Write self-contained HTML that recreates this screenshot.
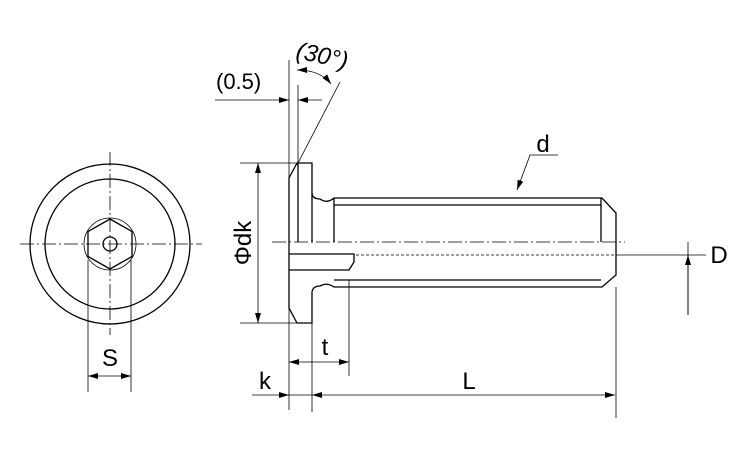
<!DOCTYPE html>
<html><head><meta charset="utf-8"><style>body{margin:0;background:#fff}svg{display:block}text{font-family:"Liberation Sans",sans-serif;fill:#000}</style></head><body>
<svg width="750" height="450" viewBox="0 0 750 450" xmlns="http://www.w3.org/2000/svg">
<defs><marker id="a" viewBox="0 0 10 6" refX="10" refY="3" markerWidth="10" markerHeight="6" orient="auto-start-reverse" markerUnits="userSpaceOnUse"><path d="M0,0L10,3L0,6z" fill="#000"/></marker></defs>
<g fill="none" stroke="#000" stroke-width="1.3">
<circle cx="110" cy="244" r="80"/><circle cx="110" cy="244" r="65"/>
<circle cx="110" cy="244" r="26" stroke-width="0.8"/>
<polygon points="110,219 132,231.5 132,256.5 110,269 88,256.5 88,231.5"/>
<circle cx="110" cy="244" r="7"/>
</g>
<g stroke="#000" stroke-width="0.8" fill="none">
<line x1="20" y1="244" x2="202" y2="244" stroke-dasharray="14,3,2,3"/>
<line x1="110" y1="152" x2="110" y2="335" stroke-dasharray="14,3,2,3"/>
<line x1="88" y1="260" x2="88" y2="392"/><line x1="131" y1="260" x2="131" y2="392"/>
<line x1="88" y1="376" x2="131" y2="376" marker-start="url(#a)" marker-end="url(#a)"/>
</g>
<text x="110" y="366" font-size="24" text-anchor="middle">S</text>
<g fill="none" stroke="#000" stroke-width="1.3">
<path d="M297,163 L312,163 L312,194 Q313,199 320,199 Q327,204 334,198 L602,198 L616,213 L616,275 L602,287 L334,287 Q327,282 320,286 Q313,286 312,292 L312,323 L297,323 L289,308 L289,178 Z"/>
<line x1="334" y1="205" x2="601" y2="205"/><line x1="334" y1="280" x2="601" y2="280"/>
<line x1="601" y1="198" x2="601" y2="242"/>
<line x1="334" y1="198" x2="334" y2="242"/>
<path d="M289,254 L354,254 L354,262 L349,270 L289,270"/>
<line x1="298" y1="163" x2="298" y2="242"/>
<line x1="312" y1="193" x2="312" y2="242"/>
</g>
<g stroke="#000" stroke-width="0.8" fill="none">
<line x1="272" y1="242" x2="625" y2="242" stroke-dasharray="14,3,2,3"/>
<line x1="356" y1="255" x2="616" y2="255" stroke-dasharray="3,2"/>
<line x1="349" y1="280" x2="349" y2="376"/>
<line x1="289" y1="60" x2="289" y2="410"/>
<line x1="298" y1="85" x2="298" y2="163"/>
<line x1="312" y1="323" x2="312" y2="412"/>
<line x1="616" y1="287" x2="616" y2="418"/>
<line x1="240" y1="163" x2="297" y2="163"/><line x1="240" y1="323" x2="297" y2="323"/>
<line x1="258" y1="163" x2="258" y2="323" marker-start="url(#a)" marker-end="url(#a)"/>
<line x1="215" y1="100" x2="289" y2="100" marker-end="url(#a)"/>
<line x1="322" y1="100" x2="298" y2="100" marker-end="url(#a)"/>
<line x1="297" y1="165" x2="340" y2="82"/>
<path d="M297,70 Q320,70 331,84" marker-start="url(#a)" marker-end="url(#a)"/>
<path d="M558,155 L530,155 L517,190" marker-end="url(#a)"/>
<line x1="616" y1="255" x2="706" y2="255"/>
<line x1="688" y1="242" x2="688" y2="315"/>
<line x1="688" y1="315" x2="688" y2="255" marker-end="url(#a)"/>
<line x1="289" y1="362" x2="349" y2="362" marker-start="url(#a)" marker-end="url(#a)"/>
<line x1="252" y1="395" x2="289" y2="395" marker-end="url(#a)"/>
<line x1="289" y1="395" x2="312" y2="395"/>
<line x1="312" y1="395" x2="615" y2="395" marker-start="url(#a)" marker-end="url(#a)"/>
</g>
<text x="216" y="89" font-size="22">(0.5)</text>
<text font-size="24" font-style="italic" transform="translate(295,58) rotate(12)">(30°)</text>
<text font-size="24" text-anchor="middle" transform="translate(251,243) rotate(-90)">Φdk</text>
<text x="543" y="152" font-size="24" text-anchor="middle">d</text>
<text x="719" y="263" font-size="24" text-anchor="middle">D</text>
<text x="325" y="355" font-size="24" text-anchor="middle">t</text>
<text x="265" y="389" font-size="24" text-anchor="middle">k</text>
<text x="469" y="389" font-size="24" text-anchor="middle">L</text>
</svg>
</body></html>
